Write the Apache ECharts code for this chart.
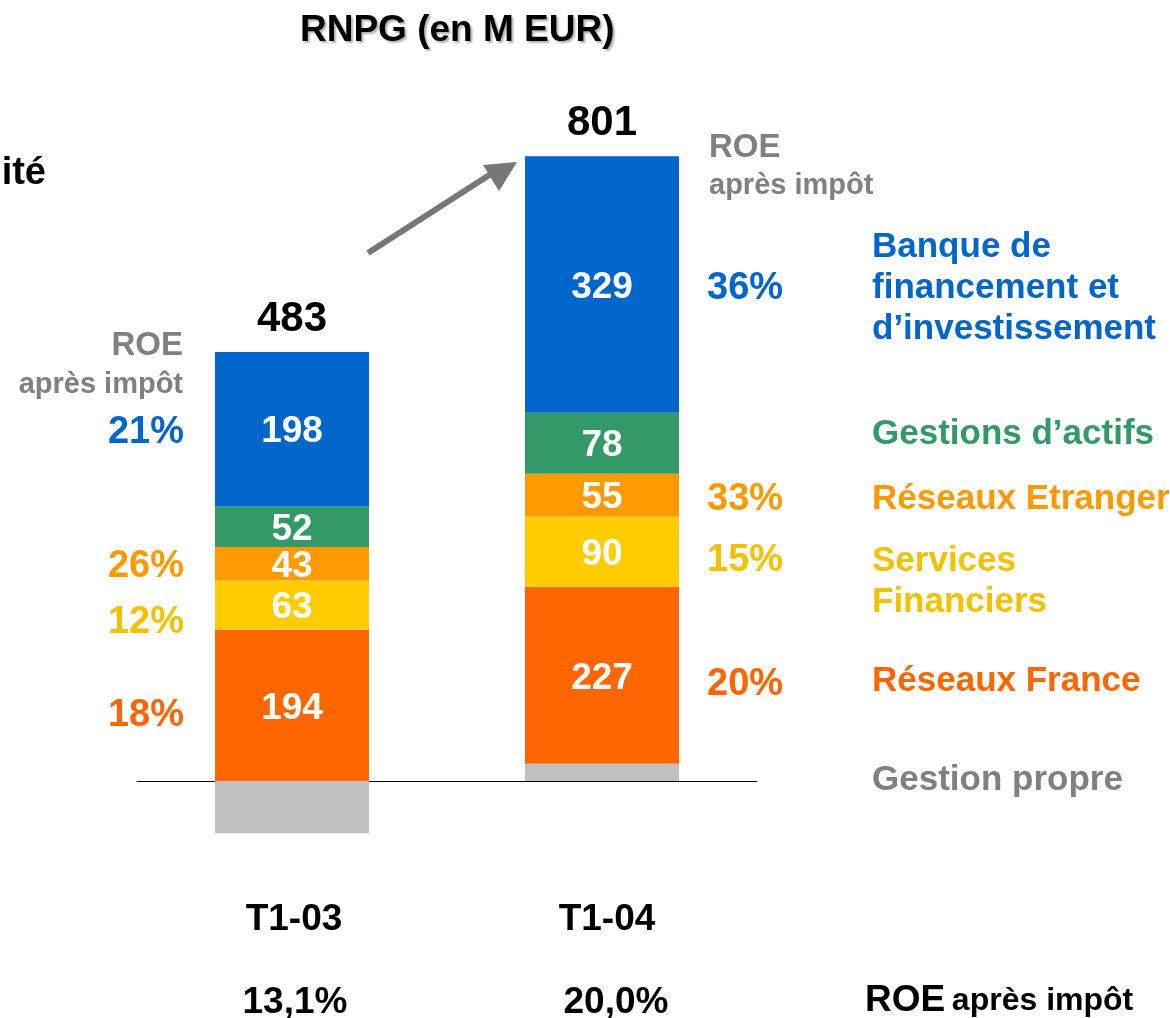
<!DOCTYPE html>
<html>
<head>
<meta charset="utf-8">
<script src="https://cdn.jsdelivr.net/npm/echarts@6/dist/echarts.min.js"></script>
<style>
  html, body { margin: 0; padding: 0; background: #fff; }
  #chart { width: 1170px; height: 1018px; }
</style>
</head>
<body>
<div id="chart"></div>
<script>
// données (M EUR)
const categories = ['T1-03', 'T1-04'];
const roeGlobal = ['13,1%', '20,0%'];
const totals = [483, 801];

// segments, du bas vers le haut de la pile
const segmentNames = [
  'Gestion propre',
  'Réseaux France',
  'Services\nFinanciers',
  'Réseaux Etranger',
  'Gestions d’actifs',
  'Banque de\nfinancement et\nd’investissement'
];
const gestionPropre = [-67, 22];
const reseauxFrance = [194, 227];
const servicesFinanciers = [63, 90];
const reseauxEtranger = [43, 55];
const gestionsActifs = [52, 78];
const banqueFinancement = [198, 329];

// ROE après impôt par métier
const roeGestionPropre = [null, null];
const roeReseauxFrance = ['18%', '20%'];
const roeServicesFinanciers = ['12%', '15%'];
const roeReseauxEtranger = ['26%', '33%'];
const roeGestionsActifs = [null, null];
const roeBanqueFinancement = ['21%', '36%'];

const segmentValues = [gestionPropre, reseauxFrance, servicesFinanciers, reseauxEtranger, gestionsActifs, banqueFinancement];
const segmentRoe = [roeGestionPropre, roeReseauxFrance, roeServicesFinanciers, roeReseauxEtranger, roeGestionsActifs, roeBanqueFinancement];
const colors = ['#c0c0c0', '#ff6600', '#ffcc00', '#ff9900', '#339966', '#0066cc'];
const textColors = ['#808080', '#ff6600', '#f2c200', '#ff9900', '#339966', '#0066cc'];

// petits décalages verticaux des étiquettes
const roeOffsetLeft = [0, 10, 17, 3, 0, 3];
const roeOffsetRight = [0, 9, 9, 4, 0, 4];
const nameOffset = [8, 6, 30, 4, -9, 4];

const FONT = '"Liberation Sans", Arial, sans-serif';
const clear = 'rgba(0,0,0,0)';

const series = [];
segmentValues.forEach(function (vals, i) {
  // barres visibles
  series.push({
    type: 'bar',
    name: segmentNames[i],
    stack: 'rnpg',
    barWidth: 154,
    barGap: '-100%',
    silent: true,
    itemStyle: { color: colors[i] },
    label: {
      show: i > 0,
      position: 'inside',
      offset: [0, 3],
      color: '#fff',
      fontFamily: FONT,
      fontWeight: 'bold',
      fontSize: 37
    },
    data: vals
  });
  // ROE par métier (pile transparente)
  series.push({
    type: 'bar',
    stack: 'roe',
    barWidth: 154,
    barGap: '-100%',
    silent: true,
    itemStyle: { color: clear },
    data: vals.map(function (v, j) {
      const txt = segmentRoe[i][j];
      return {
        value: v,
        label: {
          show: !!txt,
          formatter: txt || '',
          position: j === 0 ? 'left' : 'right',
          distance: j === 0 ? 31 : 28,
          offset: [0, j === 0 ? roeOffsetLeft[i] : roeOffsetRight[i]],
          color: textColors[i],
          fontFamily: FONT,
          fontWeight: 'bold',
          fontSize: 38
        }
      };
    })
  });
  // libellés des métiers à droite de la 2e barre
  series.push({
    type: 'bar',
    stack: 'names',
    barWidth: 154,
    barGap: '-100%',
    silent: true,
    itemStyle: { color: clear },
    data: vals.map(function (v, j) {
      return {
        value: v,
        label: {
          show: j === 1,
          formatter: segmentNames[i],
          position: 'right',
          distance: 193,
          offset: [0, nameOffset[i]],
          align: 'left',
          color: textColors[i],
          fontFamily: FONT,
          fontWeight: 'bold',
          fontSize: 35,
          lineHeight: 41
        }
      };
    })
  });
});

// totaux au-dessus des piles
const positiveTops = categories.map(function (c, j) {
  return segmentValues.reduce(function (s, arr) { return s + Math.max(arr[j], 0); }, 0);
});
series.push({
  type: 'bar',
  stack: 'totals',
  barWidth: 154,
  barGap: '-100%',
  silent: true,
  itemStyle: { color: clear },
  label: {
    show: true,
    position: 'top',
    distance: 12,
    formatter: function (p) { return totals[p.dataIndex]; },
    color: '#000',
    fontFamily: FONT,
    fontWeight: 'bold',
    fontSize: 42
  },
  data: positiveTops
});

const chart = echarts.init(document.getElementById('chart'));
chart.setOption({
  animation: false,
  backgroundColor: '#fff',
  title: {
    text: 'RNPG (en M EUR)',
    left: 295,
    top: 7,
    textStyle: {
      fontFamily: FONT,
      fontWeight: 'bold',
      fontSize: 37,
      color: '#000',
      textShadowColor: 'rgba(0,0,0,0.3)',
      textShadowOffsetX: 2,
      textShadowOffsetY: 2,
      textShadowBlur: 2
    }
  },
  grid: { left: 137, right: 413, top: 79, bottom: 159, outerBoundsMode: 'none', containLabel: false },
  xAxis: {
    type: 'category',
    data: categories,
    axisLine: { onZero: true, lineStyle: { color: '#000', width: 1 } },
    axisTick: { show: false },
    axisLabel: {
      margin: 19,
      interval: 0,
      formatter: function (v, i) {
        return i === 0
          ? '{a|' + v + '}\n{b|' + roeGlobal[i] + '}'
          : '{a2|' + v + '}\n{b2|' + roeGlobal[i] + '}';
      },
      rich: {
        a: { fontFamily: FONT, fontWeight: 'bold', fontSize: 37, color: '#000', lineHeight: 83, padding: [0, 0, 0, 4] },
        b: { fontFamily: FONT, fontWeight: 'bold', fontSize: 37, color: '#000', lineHeight: 83, padding: [0, 0, 0, 6] },
        a2: { fontFamily: FONT, fontWeight: 'bold', fontSize: 37, color: '#000', lineHeight: 83, padding: [0, 0, 0, 10] },
        b2: { fontFamily: FONT, fontWeight: 'bold', fontSize: 37, color: '#000', lineHeight: 83, padding: [0, 0, 0, 28] }
      }
    }
  },
  yAxis: {
    type: 'value',
    min: -100,
    max: 900,
    show: false,
    splitLine: { show: false }
  },
  graphic: [
    // reste d'un titre coupé à gauche
    { type: 'text', right: 1124, top: 155, style: { text: 'ité', fill: '#000', font: 'bold 38px ' + FONT } },
    // en-têtes ROE
    { type: 'text', x: 183, y: 346, style: { text: 'ROE', fill: '#808080', font: 'bold 33px ' + FONT, align: 'right', verticalAlign: 'middle' } },
    { type: 'text', x: 183, y: 385, style: { text: 'après impôt', fill: '#808080', font: 'bold 29px ' + FONT, align: 'right', verticalAlign: 'middle' } },
    { type: 'text', x: 709, y: 148, style: { text: 'ROE', fill: '#808080', font: 'bold 33px ' + FONT, align: 'left', verticalAlign: 'middle' } },
    { type: 'text', x: 709, y: 186, style: { text: 'après impôt', fill: '#808080', font: 'bold 29px ' + FONT, align: 'left', verticalAlign: 'middle' } },
    { type: 'text', x: 865, y: 1001, style: {
        text: '{r|ROE}  {s|après impôt}', align: 'left', verticalAlign: 'middle',
        rich: {
          r: { fontFamily: FONT, fontWeight: 'bold', fontSize: 37, fill: '#000' },
          s: { fontFamily: FONT, fontWeight: 'bold', fontSize: 32, fill: '#000' }
        }
      } },
    // flèche de progression
    { type: 'line', shape: { x1: 368, y1: 253, x2: 494, y2: 172 }, style: { stroke: '#777', lineWidth: 6 } },
    { type: 'polygon', shape: { points: [[517, 162], [483, 165], [499, 191]] }, style: { fill: '#777' } }
  ],
  series: series
});
</script>
</body>
</html>
